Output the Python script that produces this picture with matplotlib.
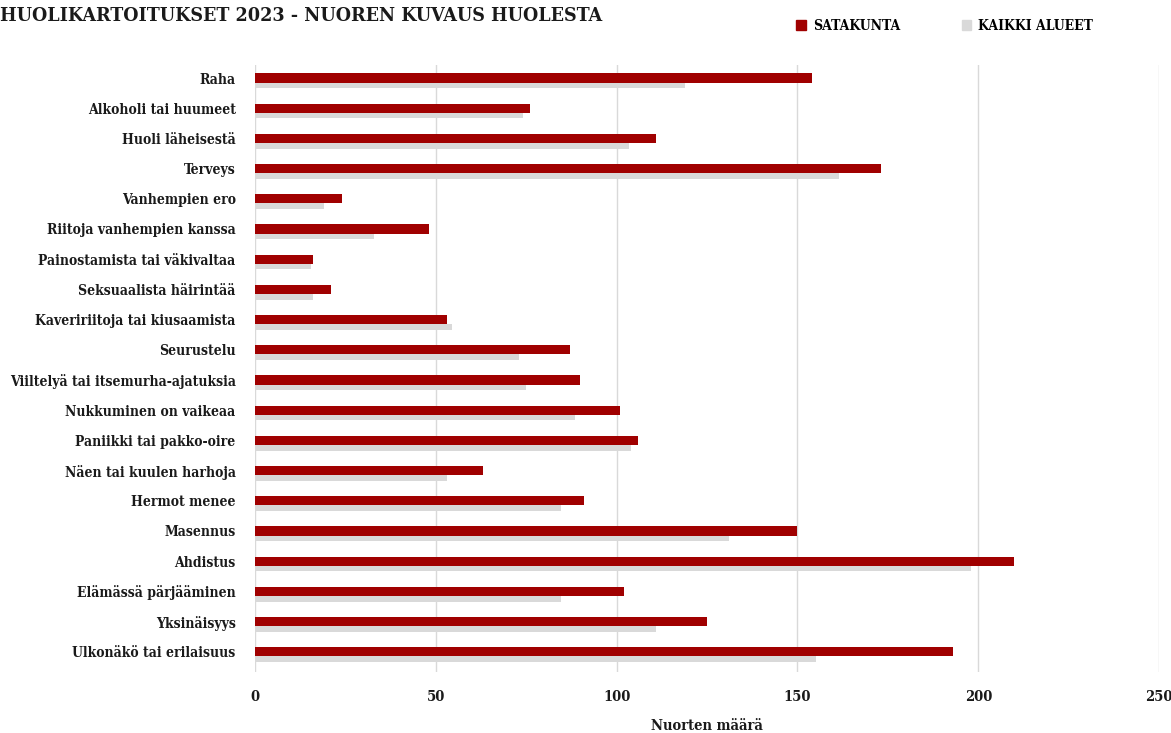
import matplotlib.pyplot as plt
import numpy as np
from matplotlib.patches import Patch

# Huolet, ylhäältä alas
kategoriat = ['Raha', 'Alkoholi tai huumeet', 'Huoli läheisestä', 'Terveys',
              'Vanhempien ero', 'Riitoja vanhempien kanssa',
              'Painostamista tai väkivaltaa', 'Seksuaalista häirintää',
              'Kaveririitoja tai kiusaamista', 'Seurustelu',
              'Viiltelyä tai itsemurha-ajatuksia', 'Nukkuminen on vaikeaa',
              'Paniikki tai pakko-oire', 'Näen tai kuulen harhoja',
              'Hermot menee', 'Masennus', 'Ahdistus', 'Elämässä pärjääminen',
              'Yksinäisyys', 'Ulkonäkö tai erilaisuus']
satakunta = [154, 76, 111, 173, 24, 48, 16, 21, 53, 87,
             90, 101, 106, 63, 91, 150, 210, 102, 125, 193]
kaikki_alueet = [119, 74, 103.5, 161.5, 19, 33, 15.5, 16, 54.5, 73,
                 75, 88.5, 104, 53, 84.5, 131, 198, 84.5, 111, 155]
x_ticks = [0, 50, 100, 150, 200, 250]

punainen = '#A00000'
harmaa = '#D9D9D9'
fontti = dict(family='DejaVu Serif', fontstretch='condensed', fontweight='bold',
              color='#1a1a1a')

fig = plt.figure(figsize=(11.71, 7.33), dpi=100)
ax = fig.add_axes([0.2178, 0.0832, 0.772, 0.8281])

y = np.arange(len(kategoriat))
ax.barh(y + 0.245, kaikki_alueet, height=0.18, color=harmaa, zorder=2)
ax.barh(y, satakunta, height=0.31, color=punainen, zorder=3)

ax.set_xlim(0, 250)
ax.set_ylim(19.67, -0.43)
ax.set_xticks(x_ticks)
ax.set_yticks(y)
ax.set_yticklabels(kategoriat, fontsize=10, **fontti)
ax.set_xticklabels([str(v) for v in x_ticks], fontsize=10.5, **fontti)
ax.tick_params(axis='both', length=0)
ax.tick_params(axis='y', pad=14)
ax.tick_params(axis='x', pad=13)
ax.grid(axis='x', color=harmaa, linewidth=1, zorder=0)
for s in ax.spines.values():
    s.set_visible(False)
ax.set_xlabel('Nuorten määrä', fontsize=10.5, labelpad=11, **fontti)

fig.text(0.0, 0.978, 'HUOLIKARTOITUKSET 2023 - NUOREN KUVAUS HUOLESTA',
         fontsize=14, ha='left', va='center', **fontti)

kahvat = [Patch(color=punainen), Patch(color=harmaa)]
leg = fig.legend(kahvat, ['SATAKUNTA', 'KAIKKI ALUEET'], loc='center left',
                 bbox_to_anchor=(0.6695, 0.965), ncol=2, frameon=False,
                 handlelength=0.7, handleheight=0.7, handletextpad=0.5,
                 columnspacing=4.4, prop=dict(family='DejaVu Serif',
                 stretch='condensed', weight='bold', size=10))

fig.savefig('out.png', dpi=100)
